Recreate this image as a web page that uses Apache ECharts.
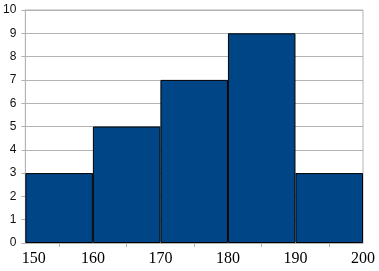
<!DOCTYPE html>
<html><head><meta charset="utf-8">
<script src="https://cdn.jsdelivr.net/npm/echarts@6/dist/echarts.min.js"></script>
<style>html,body{margin:0;padding:0;background:#fff}#c{width:379px;height:271px}</style>
</head><body><div id="c"></div>
<script>
const binLabels = ['150-160','160-170','170-180','180-190','190-200'];
const counts = [3, 5, 7, 9, 3];
const xMin = 150, xMax = 200, xStep = 10;
const yMin = 0, yMax = 10, yStep = 1;

const chart = echarts.init(document.getElementById('c'), null, {renderer:'canvas'});
chart.setOption({
  animation:false,
  grid:{left:24,right:16,top:10,bottom:28,show:true,borderColor:'#b3b3b3',borderWidth:1},
  xAxis:[
    {type:'value',min:xMin,max:xMax,interval:xStep,position:'bottom',
     axisLine:{show:true,lineStyle:{color:'#b3b3b3'}},axisTick:{show:false},splitLine:{show:false},
     axisLabel:{color:'#000',fontFamily:'Liberation Serif, Times New Roman, serif',fontSize:16,margin:8,
       formatter:function(v){return v===xMin?'{m|'+v+'}':String(v);},
       rich:{m:{fontFamily:'Liberation Serif, Times New Roman, serif',fontSize:16,color:'#000',padding:[0,0,0,17]}}}},
    {type:'category',data:binLabels,position:'bottom',boundaryGap:true,
     axisLine:{show:false},axisLabel:{show:false},
     axisTick:{show:true,alignWithLabel:true,inside:false,length:4,lineStyle:{color:'#b3b3b3'}},splitLine:{show:false}}
  ],
  yAxis:{type:'value',min:yMin,max:yMax,interval:yStep,
    axisLine:{show:true,lineStyle:{color:'#b3b3b3'}},
    axisTick:{show:true,length:4,lineStyle:{color:'#b3b3b3'}},
    splitLine:{show:true,lineStyle:{color:'#b3b3b3'}},
    axisLabel:{color:'#111',fontFamily:'Liberation Sans, Arial, sans-serif',fontSize:12,margin:9}},
  series:[{type:'bar',xAxisIndex:1,data:counts,barCategoryGap:'0%',barGap:'0%',
    itemStyle:{color:'#004586',borderColor:'#000',borderWidth:1}}]
});
</script></body></html>
